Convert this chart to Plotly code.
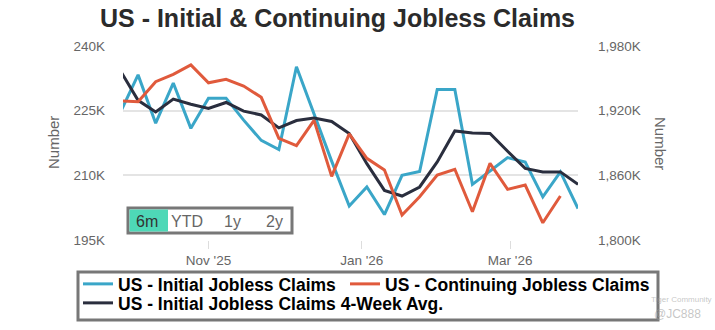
import plotly.graph_objects as go

# ---------------- data (values in thousands) ----------------
weeks = [
    "2025-09-27", "2025-10-04", "2025-10-11", "2025-10-18", "2025-10-25",
    "2025-11-01", "2025-11-08", "2025-11-15", "2025-11-22", "2025-11-29",
    "2025-12-06", "2025-12-13", "2025-12-20", "2025-12-27", "2026-01-03",
    "2026-01-10", "2026-01-17", "2026-01-24", "2026-01-31", "2026-02-07",
    "2026-02-14", "2026-02-21", "2026-02-28", "2026-03-07", "2026-03-14",
    "2026-03-21", "2026-03-28",
]
initial_claims = [
    224.7, 233.3, 222.1, 231.4, 220.9, 227.9, 227.9, 222.8, 218.1, 216.0,
    235.2, 224.0, 213.3, 202.9, 207.3, 200.9, 210.0, 210.9, 229.9, 229.9,
    207.9, 211.0, 214.1, 213.1, 205.0, 210.8, 202.3,
]
continuing_claims = [
    1929.0, 1928.3, 1946.9, 1953.7, 1962.4, 1945.9, 1949.1, 1942.9, 1932.4, 1894.3,
    1887.5, 1911.0, 1859.0, 1898.5, 1875.8, 1864.9, 1823.2, 1840.2, 1860.3, 1865.6,
    1826.2, 1871.1, 1847.0, 1851.0, 1816.0, 1840.8,
]
initial_4wk_avg = [
    234.2, 227.4, 224.7, 227.7, 226.5, 225.5, 226.9, 224.9, 224.0, 221.0,
    222.7, 223.3, 222.5, 219.7, 212.7, 206.5, 205.2, 207.3, 213.1, 220.3,
    219.8, 219.7, 215.6, 211.6, 210.8, 210.8, 207.9,
]

series_names = [
    "US - Initial Jobless Claims",
    "US - Continuing Jobless Claims",
    "US - Initial Jobless Claims 4-Week Avg.",
]
title_text = "US - Initial & Continuing Jobless Claims"

x_range = ["2025-09-28", "2026-03-28"]
x_tick_vals = ["2025-11-01", "2026-01-01", "2026-03-01"]
x_tick_text = ["Nov '25", "Jan '26", "Mar '26"]

left_tick_vals = [195, 210, 225, 240]
left_tick_text = ["195K", "210K", "225K", "240K"]
right_tick_vals = [1800, 1860, 1920, 1980]
right_tick_text = ["1,800K", "1,860K", "1,920K", "1,980K"]

range_buttons = ["6m", "YTD", "1y", "2y"]

# ---------------- styling ----------------
BLUE = "#3AA6C8"
RED = "#E05A3C"
DARK = "#2A2E3E"
GRAY_TXT = "#666666"
FONT = "Liberation Sans"

W, H = 715, 330
L, R, T, B = 123, 137, 46, 90
PW, PH = W - L - R, H - T - B


def px_x(px):
    return (px - L) / PW


def px_y(py):
    return (T + PH - py) / PH


fig = go.Figure()

fig.add_trace(go.Scatter(
    x=weeks, y=initial_claims, name=series_names[0], mode="lines",
    line=dict(color=BLUE, width=3), yaxis="y", legend="legend",
))
fig.add_trace(go.Scatter(
    x=weeks[:len(continuing_claims)], y=continuing_claims, name=series_names[1],
    mode="lines", line=dict(color=RED, width=3), yaxis="y2", legend="legend2",
))
fig.add_trace(go.Scatter(
    x=weeks, y=initial_4wk_avg, name=series_names[2], mode="lines",
    line=dict(color=DARK, width=3), yaxis="y", legend="legend3",
))

legend_font = dict(family=FONT, size=17.5, color="#000000", weight="bold")
legend_common = dict(orientation="h", xanchor="left", yanchor="middle",
                     bgcolor="rgba(0,0,0,0)", borderwidth=0, font=legend_font)

shapes = [
    # legend frame
    dict(type="rect", xref="paper", yref="paper",
         x0=px_x(78), x1=px_x(658), y0=px_y(320), y1=px_y(272),
         line=dict(color="#777777", width=3), fillcolor="rgba(0,0,0,0)", layer="above"),
    # range selector frame
    dict(type="rect", xref="paper", yref="paper",
         x0=px_x(128), x1=px_x(292), y0=px_y(233), y1=px_y(208),
         line=dict(color="#777777", width=3), fillcolor="white", layer="above"),
    # active button
    dict(type="rect", xref="paper", yref="paper",
         x0=px_x(129.5), x1=px_x(168), y0=px_y(231.5), y1=px_y(209.5),
         line=dict(width=0), fillcolor="#4ED8B7", layer="above"),
]

annotations = []
btn_centers = [147, 187, 232, 274]
for i, label in enumerate(range_buttons):
    annotations.append(dict(
        text=label, xref="paper", yref="paper", x=px_x(btn_centers[i]), y=px_y(221),
        xanchor="center", yanchor="middle", showarrow=False,
        font=dict(family=FONT, size=16, color="#333333" if i == 0 else GRAY_TXT),
    ))

annotations += [
    dict(text="Number", xref="paper", yref="paper", x=px_x(53), y=0.5,
         textangle=-90, showarrow=False, xanchor="center", yanchor="middle",
         font=dict(family=FONT, size=15, color=GRAY_TXT)),
    dict(text="Number", xref="paper", yref="paper", x=px_x(661), y=0.5,
         textangle=90, showarrow=False, xanchor="center", yanchor="middle",
         font=dict(family=FONT, size=15, color=GRAY_TXT)),
    dict(text="Tiger Community", xref="paper", yref="paper", x=px_x(714), y=px_y(299),
         xanchor="right", yanchor="middle", showarrow=False,
         font=dict(family=FONT, size=8, color="rgba(160,160,160,0.6)")),
    dict(text="@JC888", xref="paper", yref="paper", x=px_x(703), y=px_y(314),
         xanchor="right", yanchor="middle", showarrow=False,
         font=dict(family=FONT, size=12, color="rgba(160,160,160,0.6)")),
]

fig.update_layout(
    width=W, height=H,
    margin=dict(l=L, r=R, t=T, b=B, pad=0, autoexpand=False),
    paper_bgcolor="white", plot_bgcolor="white",
    title=dict(text=title_text, x=337.5 / W, xanchor="center", xref="container",
               y=1 - 18.3 / H, yanchor="middle", yref="container",
               font=dict(family=FONT, size=25, color="#2B2B2B", weight="bold")),
    showlegend=True,
    legend=dict(x=px_x(78), y=px_y(284), **legend_common),
    legend2=dict(x=px_x(345), y=px_y(284), **legend_common),
    legend3=dict(x=px_x(78), y=px_y(303), **legend_common),
    xaxis=dict(type="date", range=x_range, tickvals=x_tick_vals, ticktext=x_tick_text,
               showgrid=False, zeroline=False, showline=False,
               ticks="outside", ticklen=8, tickcolor="#dddddd", tickwidth=1,
               tickfont=dict(family=FONT, size=13.5, color=GRAY_TXT)),
    yaxis=dict(range=[195, 240], tickvals=left_tick_vals, ticktext=left_tick_text,
               showgrid=True, gridcolor="#e4e4e4", gridwidth=1.5, zeroline=False,
               showline=False, ticklabelstandoff=17,
               tickfont=dict(family=FONT, size=13.5, color=GRAY_TXT)),
    yaxis2=dict(range=[1800, 1980], tickvals=right_tick_vals, ticktext=right_tick_text,
                overlaying="y", side="right", showgrid=False, zeroline=False,
                showline=False, ticklabelstandoff=19,
                tickfont=dict(family=FONT, size=13.5, color=GRAY_TXT)),
    shapes=shapes,
    annotations=annotations,
)

fig.write_html("out.html")
